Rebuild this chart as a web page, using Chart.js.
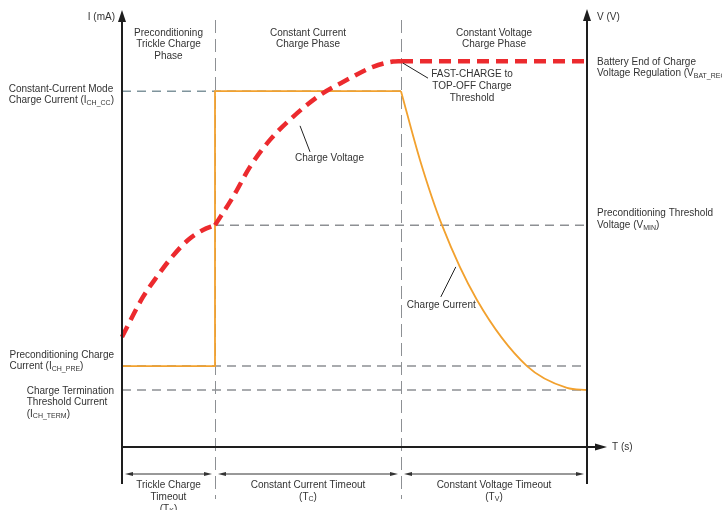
<!DOCTYPE html>
<html>
<head>
<meta charset="utf-8">
<script src="https://cdn.jsdelivr.net/npm/chart.js@4"></script>
<style>
  body { margin: 0; background: #fff; }
  canvas { display: block; }
</style>
</head>
<body>
<canvas id="profil" width="722" height="510"></canvas>
<script>
// Batas fase (sumbu waktu, satuan relatif)
const batasFase = [0, 1, 3, 5];
const namaFase = [
	["Preconditioning", "Trickle Charge", "Phase"],
	["Constant Current", "Charge Phase"],
	["Constant Voltage", "Charge Phase"],
];

// Level referensi (skala 0..100)
const I_CC = 81.8;
const V_MIN = 51.0;
const I_PRE = 18.6;
const I_TERM = 13.1;
const V_BAT_REG = 88.7;

// Tegangan pengisian (garis merah putus-putus)
const tTegTrickle = [0, 0.226, 0.387, 0.538, 0.71, 0.871, 1];
const vTegTrickle = [25.3, 34.5, 39.5, 43.7, 47.6, 49.9, 51.0];
const tTegCc = [1, 1.194, 1.376, 1.591, 1.839, 2.129, 2.419, 2.699, 2.914, 3];
const vTegCc = [51.0, 57.5, 64.4, 70.6, 75.9, 80.9, 84.4, 87.4, 88.6, 88.7];
const tTegCv = [3, 5];
const vTegCv = [V_BAT_REG, V_BAT_REG];

// Arus pengisian (garis oranye)
const tArusAwal = [0, 1, 1, 3];
const iArusAwal = [I_PRE, I_PRE, I_CC, I_CC];
const tArusCv = [3, 3.204, 3.441, 3.817, 4.355, 4.785, 5];
const iArusCv = [81.8, 66.0, 51.0, 33.8, 18.6, 13.6, 13.1];

// Garis bantu horizontal: [level, mulai, selesai]
const garisBantu = [
	[I_CC, 0, 3],
	[V_MIN, 1, 5],
	[I_PRE, 0, 5],
	[I_TERM, 0, 5],
];

const timeoutLabel = [
	[["Trickle Charge"], ["Timeout"], ["(T", "K", ")"]],
	[["Constant Current Timeout"], ["(T", "C", ")"]],
	[["Constant Voltage Timeout"], ["(T", "V", ")"]],
];

const FONT = '10px "Liberation Sans", Arial, sans-serif';
const FONT_SUB = '7px "Liberation Sans", Arial, sans-serif';
const WARNA_TEKS = "#333333";

function keTitik(ts, vs) {
	return ts.map((t, i) => ({ x: t, y: vs[i] }));
}

// Lebar satu baris teks, bagian ganjil = subskrip
function lebarBaris(ctx, bagian) {
	let w = 0;
	bagian.forEach((s, i) => {
		ctx.font = i % 2 ? FONT_SUB : FONT;
		w += ctx.measureText(s).width;
	});
	return w;
}

function tulisBaris(ctx, bagian, x, y, align) {
	const w = lebarBaris(ctx, bagian);
	let cx = align === "center" ? x - w / 2 : align === "right" ? x - w : x;
	ctx.textAlign = "left";
	ctx.textBaseline = "middle";
	ctx.fillStyle = WARNA_TEKS;
	bagian.forEach((s, i) => {
		ctx.font = i % 2 ? FONT_SUB : FONT;
		ctx.fillText(s, cx, y + (i % 2 ? 2.5 : 0));
		cx += ctx.measureText(s).width;
	});
}

// Blok rata kiri yang ujung kanannya menempel ke xKanan
function tulisBlokKiri(ctx, baris, xKanan, y0) {
	const maxW = Math.max(...baris.map((b) => lebarBaris(ctx, b)));
	baris.forEach((b, i) => tulisBaris(ctx, b, xKanan - maxW, y0 + i * 11.5, "left"));
}

function panah(ctx, x, y, arah, panjang, lebar) {
	const dx = Math.cos(arah), dy = Math.sin(arah);
	ctx.beginPath();
	ctx.moveTo(x, y);
	ctx.lineTo(x - dx * panjang - dy * lebar, y - dy * panjang + dx * lebar);
	ctx.lineTo(x - dx * panjang + dy * lebar, y - dy * panjang - dx * lebar);
	ctx.closePath();
	ctx.fill();
}

function garis(ctx, x1, y1, x2, y2) {
	ctx.beginPath();
	ctx.moveTo(x1, y1);
	ctx.lineTo(x2, y2);
	ctx.stroke();
}

const anotasi = {
	id: "anotasi",
	beforeDatasetsDraw(chart) {
		const { ctx, chartArea: a, scales: { x } } = chart;
		ctx.save();
		// garis batas fase (vertikal putus-putus)
		ctx.strokeStyle = "#8d9094";
		ctx.lineWidth = 1;
		ctx.setLineDash([13, 6]);
		batasFase.slice(1, 3).forEach((t) => {
			const px = Math.round(x.getPixelForValue(t)) + 0.5;
			garis(ctx, px, a.top + 8, px, a.bottom + 52);
		});
		ctx.restore();
	},
	afterDatasetsDraw(chart) {
		const { ctx, chartArea: a, scales: { x, y } } = chart;
		ctx.save();
		const kiri = x.getPixelForValue(batasFase[0]);
		const kanan = x.getPixelForValue(batasFase[3]);
		const nol = y.getPixelForValue(0);

		// sumbu
		ctx.strokeStyle = "#1e1e1e";
		ctx.fillStyle = "#1e1e1e";
		ctx.lineWidth = 2;
		garis(ctx, kiri, a.top + 8, kiri, a.bottom + 37);
		panah(ctx, kiri, a.top - 2, -Math.PI / 2, 12, 4);
		garis(ctx, kanan, a.top + 8, kanan, a.bottom + 37);
		panah(ctx, kanan, a.top - 3, -Math.PI / 2, 12, 4);
		garis(ctx, kiri, nol, kanan + 8, nol);
		panah(ctx, kanan + 20, nol, 0, 12, 3.5);

		// panah dimensi timeout
		ctx.lineWidth = 1;
		ctx.strokeStyle = "#333";
		ctx.fillStyle = "#333";
		const yDim = a.bottom + 27;
		for (let i = 0; i < 3; i++) {
			const x1 = x.getPixelForValue(batasFase[i]) + 3;
			const x2 = x.getPixelForValue(batasFase[i + 1]) - 3;
			garis(ctx, x1 + 4, yDim, x2 - 4, yDim);
			panah(ctx, x1, yDim, Math.PI, 8, 2);
			panah(ctx, x2, yDim, 0, 8, 2);
			const tengah = (x1 + x2) / 2;
			timeoutLabel[i].forEach((b, j) => tulisBaris(ctx, b, tengah, a.bottom + 38 + j * 12, "center"));
		}

		// judul fase
		for (let i = 0; i < 3; i++) {
			const tengah = (x.getPixelForValue(batasFase[i]) + x.getPixelForValue(batasFase[i + 1])) / 2;
			namaFase[i].forEach((s, j) => tulisBaris(ctx, [s], tengah, a.top + 21 + j * 11.5, "center"));
		}

		// judul sumbu
		tulisBaris(ctx, ["I (mA)"], kiri - 7, a.top + 5, "right");
		tulisBaris(ctx, ["V (V)"], kanan + 10, a.top + 5, "left");
		tulisBaris(ctx, ["T (s)"], kanan + 25, nol, "left");

		// label kiri
		const lx = kiri - 8;
		tulisBlokKiri(ctx, [["Constant-Current Mode"], ["Charge Current (I", "CH_CC", ")"]], lx, y.getPixelForValue(I_CC) - 2);
		tulisBlokKiri(ctx, [["Preconditioning Charge"], ["Current (I", "CH_PRE", ")"]], lx, y.getPixelForValue(I_PRE) - 11);
		tulisBlokKiri(ctx, [["Charge Termination"], ["Threshold Current"], ["(I", "CH_TERM", ")"]], lx, y.getPixelForValue(I_TERM) + 1);

		// label kanan
		const rx = kanan + 10;
		tulisBaris(ctx, ["Battery End of Charge"], rx, y.getPixelForValue(V_BAT_REG) + 1, "left");
		tulisBaris(ctx, ["Voltage Regulation (V", "BAT_REG", ")"], rx, y.getPixelForValue(V_BAT_REG) + 12, "left");
		tulisBaris(ctx, ["Preconditioning Threshold"], rx, y.getPixelForValue(V_MIN) - 12, "left");
		tulisBaris(ctx, ["Voltage (V", "MIN", ")"], rx, y.getPixelForValue(V_MIN), "left");

		// label dengan garis penunjuk
		ctx.strokeStyle = "#222";
		ctx.lineWidth = 1;
		const pFast = { x: x.getPixelForValue(3), y: y.getPixelForValue(V_BAT_REG) };
		garis(ctx, pFast.x + 2, pFast.y + 2, pFast.x + 27, pFast.y + 17);
		["FAST-CHARGE to", "TOP-OFF Charge", "Threshold"].forEach((s, j) =>
			tulisBaris(ctx, [s], pFast.x + 71, pFast.y + 13 + j * 12, "center"));

		const pTeg = { x: x.getPixelForValue(tTegCc[4]), y: y.getPixelForValue(vTegCc[4]) };
		garis(ctx, pTeg.x + 7, pTeg.y + 9, pTeg.x + 17, pTeg.y + 35);
		tulisBaris(ctx, ["Charge Voltage"], pTeg.x + 2, pTeg.y + 41, "left");

		const pArus = { x: x.getPixelForValue(3.6), y: y.getPixelForValue(41.4) };
		garis(ctx, pArus.x - 1, pArus.y, pArus.x - 16, pArus.y + 30);
		tulisBaris(ctx, ["Charge Current"], pArus.x - 50, pArus.y + 38, "left");
		ctx.restore();
	},
};

const dataset = [
	...garisBantu.map(([lv, a, b], i) => ({
		data: keTitik([a, b], [lv, lv]),
		borderColor: i === 0 ? "#7f949c" : "#8d9094",
		borderWidth: 1.5,
		borderDash: [9, 6],
		order: 3,
	})),
	{ data: keTitik(tArusAwal, iArusAwal), borderColor: "#f2a12e", borderWidth: 1.8, order: 2 },
	{ data: keTitik(tArusCv, iArusCv), borderColor: "#f2a12e", borderWidth: 1.8, cubicInterpolationMode: "monotone", order: 2 },
	{ data: keTitik(tTegTrickle, vTegTrickle), borderColor: "#ec2a2e", borderWidth: 4.5, borderDash: [12, 7], cubicInterpolationMode: "monotone", order: 1 },
	{ data: keTitik(tTegCc, vTegCc), borderColor: "#ec2a2e", borderWidth: 4.5, borderDash: [12, 7], cubicInterpolationMode: "monotone", order: 1 },
	{ data: keTitik(tTegCv, vTegCv), borderColor: "#ec2a2e", borderWidth: 4.5, borderDash: [12, 7], order: 1 },
];

new Chart(document.getElementById("profil"), {
	type: "line",
	data: { datasets: dataset.map((d) => ({ pointRadius: 0, fill: false, clip: false, ...d })) },
	options: {
		responsive: false,
		animation: false,
		devicePixelRatio: 1,
		layout: { padding: { left: 122, right: 135, top: 12, bottom: 63 } },
		scales: {
			x: { type: "linear", min: 0, max: 5, display: false },
			y: { min: 0, max: 100, display: false },
		},
		plugins: { legend: { display: false }, tooltip: { enabled: false } },
	},
	plugins: [anotasi],
});
</script>
</body>
</html>
